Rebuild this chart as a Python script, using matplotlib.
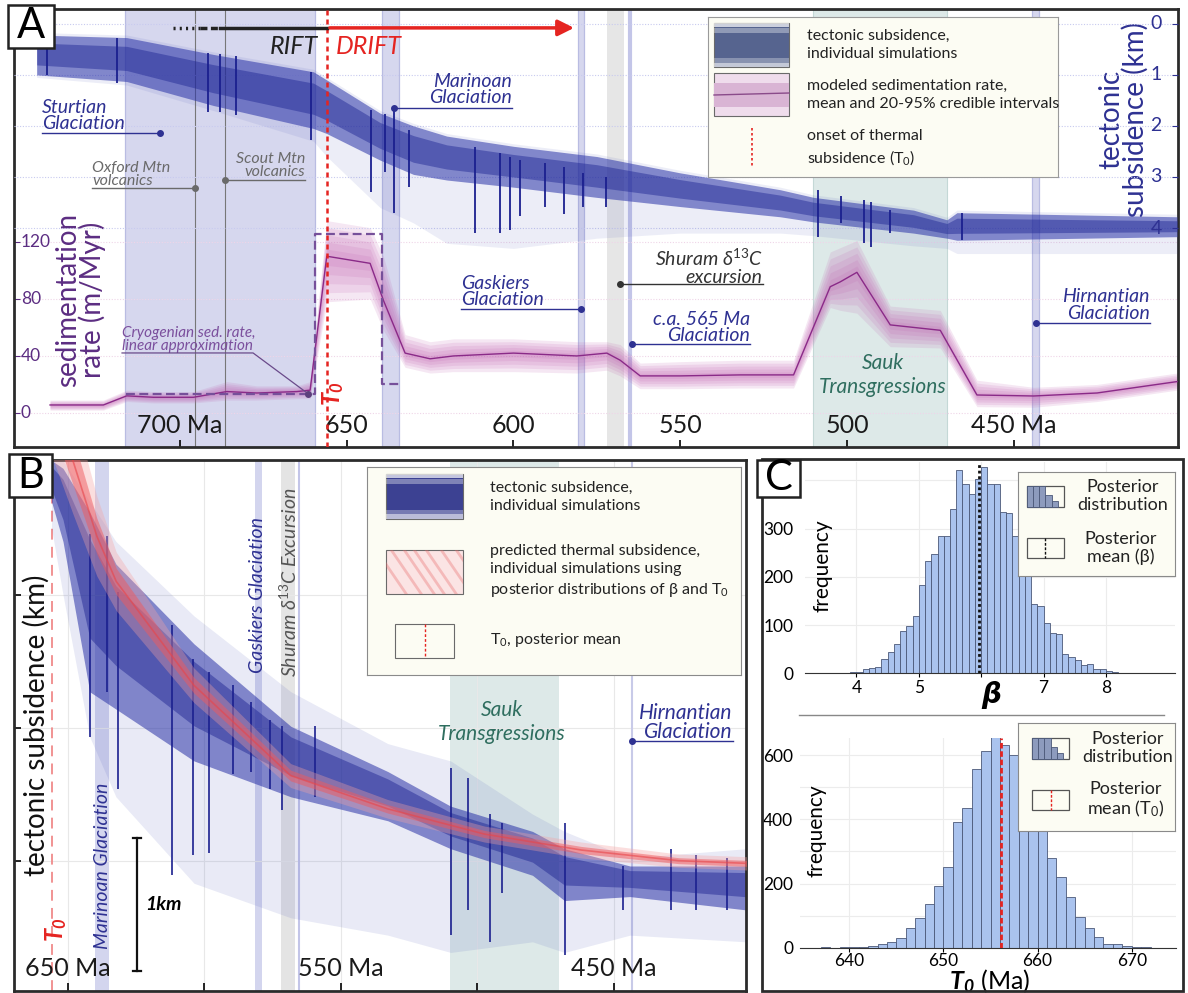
import numpy as np
import matplotlib
matplotlib.use('Agg')
import matplotlib.pyplot as plt
from matplotlib.patches import Rectangle
from matplotlib.lines import Line2D

plt.rcParams['font.family'] = ['Lato', 'DejaVu Sans']
plt.rcParams['mathtext.fontset'] = 'custom'
plt.rcParams['mathtext.rm'] = 'Lato'
plt.rcParams['mathtext.it'] = 'Lato:italic'
plt.rcParams['mathtext.bf'] = 'Lato:bold:italic'

# ---------------- data ----------------
# panel A: modeled sedimentation rate (m/Myr), mean and 95% envelope
sed_age = [739, 723, 716, 708, 696, 686, 677, 665, 661, 656, 643, 639, 632.5, 625, 618, 600,
           581, 572, 568, 562, 550, 532, 516, 505, 502, 497, 487, 472, 461, 444, 425, 401]
sed_mean = [5.6, 5.6, 12, 11, 11, 15, 14, 15, 16, 110, 105, 79, 42, 38, 40, 42,
            40, 42, 37, 26, 26, 26.7, 26.7, 88.6, 92, 98.7, 61.8, 58, 12.6, 11.9, 14, 22]
sed_hi = [9, 9, 16, 15, 15, 22, 19, 19, 22, 135, 130, 110, 55, 50, 52, 52,
          50, 50, 48, 35, 36, 37, 37, 113, 116, 121, 75, 72, 23, 18, 20, 28]
sed_lo = [2, 2, 8, 7, 7, 9, 9, 10, 10, 78, 80, 58, 32, 28, 29, 29,
          28, 30, 26, 17, 17, 17.5, 17.5, 74, 72, 70, 46.5, 45.6, 4.4, 4, 8, 16]

# cryogenian linear approximation (step)
cryo_age = [716.2, 659.6, 659.6, 639.4, 639.4, 634.3]
cryo_rate = [13.5, 13.5, 125.6, 125.6, 20, 20]

# panel A: tectonic subsidence ensemble (km)
sub_age = [743, 716, 690, 660, 656, 640, 630, 620, 600, 575, 550, 520, 510, 480, 470, 467, 401]
sub_top = [0.22, 0.27, 0.6, 0.94, 1.1, 1.75, 2.0, 2.2, 2.4, 2.6, 2.92, 3.25, 3.4, 3.65, 3.84, 3.7, 3.78]
sub_bot = [1.0, 1.13, 1.6, 2.05, 2.15, 2.67, 2.95, 3.06, 3.2, 3.4, 3.58, 3.78, 3.88, 4.1, 4.2, 4.24, 4.17]
sub_tail = [1.05, 1.2, 1.7, 2.3, 2.6, 3.6, 3.9, 4.3, 4.4, 4.2, 4.1, 4.1, 4.15, 4.35, 4.4, 4.5, 4.5]

spk_a_age = [739.9, 718.9, 691.6, 688, 683.2, 660.7, 642.7, 638.5, 635.8, 631.3, 611.5, 604,
             601, 598, 590.6, 584.9, 579.2, 572.3, 508.7, 501.8, 494.9, 492.8, 487.1, 465.5]
spk_a_top = [0.47, 0.27, 0.57, 0.6, 0.64, 0.94, 1.69, 1.76, 1.63, 2.08, 2.41, 2.54,
             2.6, 2.67, 2.73, 2.8, 2.93, 3.0, 3.25, 3.38, 3.45, 3.5, 3.65, 3.7]
spk_a_bot = [1.0, 1.16, 1.72, 1.72, 1.78, 2.27, 3.3, 2.9, 3.7, 3.2, 4.1, 4.1,
             4.04, 3.77, 3.59, 3.72, 3.59, 3.59, 4.17, 3.9, 4.3, 4.37, 4.1, 4.24]

# event intervals (Ma)
glac_a = [(716.5, 659.5), (639.4, 634.4), (580.7, 578.9), (444.5, 442.3)]
glac_b = [(640.0, 635.0), (581.3, 579.0)]
shuram = (571.9, 566.8)
ca565 = 565.2
hirnantian = 443.2
sauk = (510.2, 470.0)
volc_ages = [695.5, 686.5]
T0_MEAN = 655.9

# panel B: tectonic subsidence ensemble and thermal subsidence (km)
b_age = [656, 651.8, 642, 632.4, 603.8, 568.3, 532.8, 509.8, 479.8, 468.1, 444.1, 401.6]
b_core_top = [0.99, 1.05, 1.38, 1.77, 2.37, 2.99, 3.33, 3.59, 3.78, 3.91, 4.04, 4.04]
b_core_bot = [1.3, 1.6, 2.73, 2.86, 3.25, 3.52, 3.70, 3.91, 4.11, 4.30, 4.27, 4.37]
b_tail_top = [0.95, 0.99, 1.3, 1.6, 2.16, 2.73, 3.12, 3.25, 3.65, 3.78, 3.98, 3.91]
b_tail_bot = [1.5, 2.0, 3.07, 3.52, 4.17, 4.43, 4.56, 4.69, 4.61, 4.69, 4.56, 4.61]

r_age = [656, 648.2, 639.4, 632.3, 603.9, 568.4, 532.9, 497.4, 461.9, 426.3, 401.4]
r_mid = [0.5, 0.99, 1.56, 1.90, 2.68, 3.36, 3.61, 3.80, 3.92, 4.00, 4.02]
r_hw = [0.45, 0.4, 0.3, 0.22, 0.13, 0.09, 0.07, 0.06, 0.06, 0.05, 0.05]

spk_b_age = [642.0, 635.8, 631.7, 611.9, 604.2, 598.2, 589.6, 582.9, 576.0, 571.4,
             559.5, 509.8, 503.5, 495.5, 491.0, 468.0, 446.7, 429.0, 420.0, 408.6]
spk_b_top = [1.54, 1.56, 1.98, 2.23, 2.48, 2.58, 2.68, 2.81, 2.94, 2.99,
             2.99, 3.30, 3.38, 3.65, 3.72, 3.72, 4.04, 3.91, 3.96, 3.98]
spk_b_bot = [3.07, 2.73, 3.46, 4.11, 3.96, 3.94, 3.35, 3.33, 3.46, 3.62,
             3.52, 4.56, 4.37, 4.61, 4.24, 4.71, 4.37, 4.37, 4.37, 4.37]

# panel C: posterior histograms
beta_start, beta_width = 3.5, 0.1
beta_counts = [1, 1, 1, 1, 2, 3, 8, 12, 13, 30, 45, 61, 87, 99, 118,
               183, 233, 248, 284, 284, 340, 422, 392, 372, 402,
               427, 393, 393, 334, 332, 284, 250, 215, 143, 140,
               105, 83, 82, 40, 33, 28, 17, 19, 8, 8, 5, 2, 1, 1, 1, 1, 1]
beta_mean = 5.96
t0_start = 637
t0_counts = [1, 0, 1, 1, 3, 5, 11, 19, 29, 62, 93, 135, 193, 253, 391, 435, 557, 612, 659, 633,
             600, 545, 465, 385, 281, 219, 157, 95, 62, 34, 11, 13, 5, 3, 1]
t0_mean = 656.1

# ---------------- styling ----------------
NAVY = '#2e3192'
TEAL = '#2f6e5f'
RED = '#e52421'
PURP = '#5c2d82'
LAV = '#d6d7ee'

W, H = 1188, 993
fig = plt.figure(figsize=(W / 100, H / 100), dpi=100)


def box(l, t, r, b):
    return [l / W, 1 - b / H, (r - l) / W, (b - t) / H]


def callout(a, text, tx, ty, ha, x0, x1, ly, dotx, color, fs):
    a.text(tx, ty, text, ha=ha, va='center', color=color, fontsize=fs,
           style='italic', linespacing=0.95, zorder=8)
    a.plot([x0, x1], [ly, ly], color=color, lw=1, zorder=8)
    a.plot(dotx, ly, 'o', color=color, ms=4, zorder=8)


# ================= panel A =================
ax = fig.add_axes(box(14, 9, 1178, 447))
ax.set_xlim(749.8, 400.7)
ax.set_ylim(-23.9, 283.5)
axk = ax.twinx()
axk.set_ylim(8.29, -0.29)
for s in ax.spines.values():
    s.set_linewidth(2)
    s.set_color('#2b2b2b')
for s in axk.spines.values():
    s.set_visible(False)

for s, e in glac_a:
    ax.axvspan(s, e, color=LAV, lw=0, zorder=0)
    ax.axvline(s, color='#b9bce2', lw=0.9, zorder=0.2)
    ax.axvline(e, color='#b9bce2', lw=0.9, zorder=0.2)
ax.axvspan(*shuram, color='#e6e6e6', lw=0, zorder=0)
ax.axvline(ca565, color='#c3c5e8', lw=3, zorder=0.2)
ax.axvspan(*sauk, color='#dde9e8', lw=0, zorder=0)
ax.axvline(sauk[0], color='#c4d8d6', lw=0.8, zorder=0.2)
ax.axvline(sauk[1], color='#c4d8d6', lw=0.8, zorder=0.2)
for v in volc_ages:
    ax.axvline(v, color='#777777', lw=0.8, zorder=0.5)
for r in [0, 40, 80, 120]:
    ax.axhline(r, color='#efd5e8', lw=0.8, ls=(0, (1, 1.5)), zorder=0.3)
for k in [0, 1, 2, 3, 4]:
    axk.axhline(k, color='#c8caef', lw=0.8, ls=(0, (1, 1.5)), zorder=0.3)

# sedimentation rate credible bands
m = np.array(sed_mean)
lo = np.array(sed_lo)
hi = np.array(sed_hi)
for f in [1.0, 0.8, 0.6, 0.4, 0.2]:
    ax.fill_between(sed_age, m - f * (m - lo), m + f * (hi - m), color='#c060b0',
                    alpha=0.15, lw=0, zorder=2)
ax.plot(sed_age, sed_mean, color='#8a2a88', lw=1, zorder=3)
ax.plot(cryo_age, cryo_rate, color='#76509a', lw=1.6, ls=(0, (4, 2)), zorder=4)

# tectonic subsidence ensemble
st = np.array(sub_top)
sb = np.array(sub_bot)
axk.fill_between(sub_age, st - 0.05, sub_tail, color='#4a55b8', alpha=0.10, lw=0, zorder=1)
axk.fill_between(sub_age, st, sb, color='#2a33a8', alpha=0.55, lw=0, zorder=1)
axk.fill_between(sub_age, st + 0.2 * (sb - st), sb - 0.25 * (sb - st), color='#1c2492',
                 alpha=0.45, lw=0, zorder=1)
axk.vlines(spk_a_age, spk_a_top, spk_a_bot, color='#1b208f', lw=1.3, zorder=2)

axk.axvline(T0_MEAN, color=RED, lw=1.8, ls=(0, (2, 1.6)), zorder=5)

# rift / drift arrow
axk.plot([702, 694], [0.08, 0.08], color='#222', lw=2.5, ls=(0, (0.6, 1.2)), zorder=6)
axk.plot([694, 688], [0.08, 0.08], color='#222', lw=2.5, ls=(0, (2, 1)), zorder=6)
axk.plot([688, T0_MEAN], [0.08, 0.08], color='#222', lw=2.5, zorder=6)
axk.annotate('', xy=(581, 0.08), xytext=(T0_MEAN, 0.08),
             arrowprops=dict(arrowstyle='-|>', color=RED, lw=2.5, mutation_scale=24), zorder=6)
axk.text(658.6, 0.45, 'RIFT', ha='right', va='center', fontsize=18, style='italic', color='#222')
axk.text(653.2, 0.45, 'DRIFT', ha='left', va='center', fontsize=18, style='italic', color=RED)

callout(axk, 'Sturtian\nGlaciation', 741.4, 1.80, 'left', 741.4, 706, 2.14, 706, NAVY, 14)
callout(axk, 'Marinoan\nGlaciation', 600.4, 1.29, 'right', 635.8, 600.4, 1.65, 635.8, NAVY, 14)
callout(axk, 'Oxford Mtn\nvolcanics', 726.4, 2.95, 'left', 726.4, 695.5, 3.22, 695.5, '#6a6a6a', 11.5)
callout(axk, 'Scout Mtn\nvolcanics', 662.5, 2.78, 'right', 686.5, 662.5, 3.06, 686.5, '#6a6a6a', 11.5)
callout(axk, 'Gaskiers\nGlaciation', 615.7, 5.25, 'left', 615.7, 579.8, 5.59, 579.8, NAVY, 14)
callout(axk, 'Shuram δ$^{13}$C\nexcursion', 525.2, 4.76, 'right', 568.1, 525.2, 5.1, 568.1, '#333333', 14)
callout(axk, 'c.a. 565 Ma\nGlaciation', 529.1, 5.95, 'right', 564.5, 529.1, 6.27, 564.5, NAVY, 14)
callout(axk, 'Hirnantian\nGlaciation', 409.1, 5.51, 'right', 443.3, 409.1, 5.86, 443.3, NAVY, 14)
axk.text(489.2, 6.88, 'Sauk\nTransgressions', ha='center', va='center', fontsize=15,
         style='italic', color=TEAL, linespacing=1.3)
axk.text(654.1, 7.24, r'$\mathbf{T_0}$', rotation=90, ha='center', va='center',
         fontsize=17, color=RED, zorder=7)

ax.text(717.4, 51.6, 'Cryogenian sed. rate,\nlinear approximation', ha='left', va='center',
        fontsize=11, style='italic', color='#7b4f9d', linespacing=0.95, zorder=8)
ax.plot([717.4, 678.1, 661.6], [42.1, 42.1, 13.5], color='#6a4a8a', lw=0.9, zorder=8)
ax.plot(661.6, 13.5, 'o', color='#5c3f7c', ms=4, zorder=8)

# ticks and labels
ax.set_xticks([700, 650, 600, 550, 500, 450])
ax.tick_params(axis='x', direction='in', length=5, width=1.2, labelbottom=False)
ax.set_yticks([0, 40, 80, 120])
ax.tick_params(axis='y', direction='in', length=4, color=PURP, labelleft=False)
axk.set_yticks([0, 1, 2, 3, 4])
axk.tick_params(axis='y', direction='in', length=4, color=NAVY, labelright=False)
tx_a = ax.get_xaxis_transform()
for t, lab in zip([700, 650, 600, 550, 500, 450], ['700 Ma', '650', '600', '550', '500', '450 Ma']):
    ax.text(t, 0.048, lab, transform=tx_a, ha='center', va='center', fontsize=18, color='#1a1a1a')
ty_a = ax.get_yaxis_transform()
for r in [0, 40, 80, 120]:
    ax.text(0.006, r, str(r), transform=ty_a, ha='left', va='center', fontsize=12.5, color=PURP)
ty_k = axk.get_yaxis_transform()
for k in [0, 1, 2, 3, 4]:
    axk.text(0.986, k, str(k), transform=ty_k, ha='right', va='center', fontsize=14, color=NAVY)
ax.text(0.057, 0.336, 'sedimentation\nrate (m/Myr)', transform=ax.transAxes, rotation=90,
        ha='center', va='center', fontsize=20, color=PURP, linespacing=0.9)
ax.text(0.953, 0.747, 'tectonic\nsubsidence (km)', transform=ax.transAxes, rotation=90,
        ha='center', va='center', fontsize=20, color=NAVY, linespacing=0.9)


def blue_swatch(a, x0, y0, w, h, base):
    a.add_patch(Rectangle((x0, y0), w, h, fc=base, ec='#6a6a6a', lw=0.8))
    for fr, al in zip([0.0, 0.12, 0.8, 0.9], [0.7, 0.35, 0.3, 0.65]):
        a.add_patch(Rectangle((x0, y0 + fr * h), w, 0.1 * h, fc='white', ec='none', alpha=al))


# legend A
la = fig.add_axes(box(708, 17, 1058, 177))
la.set_xlim(0, 350)
la.set_ylim(160, 0)
la.set_xticks([])
la.set_yticks([])
la.set_facecolor('#fcfcf3')
for s in la.spines.values():
    s.set_color('#9a9a9a')
blue_swatch(la, 6, 6, 75, 44, '#56648f')
la.add_patch(Rectangle((6, 56), 75, 43, fc='#efdcec', ec='#6a6a6a', lw=0.8))
la.add_patch(Rectangle((6, 66), 75, 24, fc='#d9b4d4', ec='none'))
la.plot([6, 81], [78, 76], color='#8a4b8a', lw=1)
la.plot([44, 44], [111, 150], color=RED, lw=1.2, ls=(0, (1.5, 1.5)))
la.text(99, 28, 'tectonic subsidence,\nindividual simulations', va='center', fontsize=11.5,
        color='#222', linespacing=1.3)
la.text(99, 78, 'modeled sedimentation rate,\nmean and 20-95% credible intervals', va='center',
        fontsize=11.5, color='#222', linespacing=1.3)
la.text(99, 131, 'onset of thermal\nsubsidence (T$_0$)', va='center', fontsize=11.5, color='#222',
        linespacing=1.3)

# ================= panel B =================
axb = fig.add_axes(box(13.6, 460, 746, 991))
axb.set_xlim(669.9, 401.6)
axb.set_ylim(4.98, 0.987)
for s in axb.spines.values():
    s.set_linewidth(2)
    s.set_color('#2b2b2b')
axb.set_xticks([650, 600, 550, 500, 450])
axb.set_yticks([2, 3, 4])
axb.tick_params(axis='x', direction='in', length=6, width=1.2, labelbottom=False)
axb.tick_params(axis='y', direction='in', length=5, width=1.2, labelleft=False)
axb.grid(True, color='#e8e8e8', lw=0.8)
axb.set_axisbelow(True)

for s, e in glac_b:
    axb.axvspan(s, e, color='#d3d5ee', lw=0, zorder=0.5)
axb.axvspan(*shuram, color='#e4e4e4', lw=0, zorder=0.5)
axb.axvline(ca565, color='#c3c5e8', lw=1.5, zorder=0.6)
axb.axvspan(*sauk, color='#dde9e8', lw=0, zorder=0.5)
axb.axvline(hirnantian, color='#c8cae8', lw=1.5, zorder=0.6)
axb.axvline(T0_MEAN, color='#f08a8a', lw=1.3, ls=(0, (6, 4)), zorder=0.7)

bt = np.array(b_core_top)
bb = np.array(b_core_bot)
axb.fill_between(b_age, b_tail_top, b_tail_bot, color='#4a55b8', alpha=0.12, lw=0, zorder=1)
axb.fill_between(b_age, bt, bb, color='#2a32a6', alpha=0.55, lw=0, zorder=1)
axb.fill_between(b_age, bt + 0.15 * (bb - bt), bb - 0.3 * (bb - bt), color='#1a2190',
                 alpha=0.45, lw=0, zorder=1)
axb.vlines(spk_b_age, spk_b_top, spk_b_bot, color='#1b208f', lw=1.2, zorder=2)
rm = np.array(r_mid)
rh = np.array(r_hw)
axb.fill_between(r_age, rm - rh, rm + rh, color='#f5a3a3', alpha=0.35, lw=0, zorder=3)
axb.fill_between(r_age, rm - 0.45 * rh, rm + 0.45 * rh, color='#ef5a5e', alpha=0.5, lw=0, zorder=3)
axb.plot(r_age, r_mid, color='#e8454a', lw=1.2, alpha=0.6, zorder=3)

axb.plot([624.7, 624.7], [3.833, 4.83], color='#111', lw=1.6, zorder=6)
axb.plot([626.3, 623.1], [3.833, 3.833], color='#111', lw=1.6, zorder=6)
axb.plot([626.3, 623.1], [4.83, 4.83], color='#111', lw=1.6, zorder=6)
axb.text(621.8, 4.33, '1km', ha='left', va='center', fontsize=14, weight='bold', style='italic')

axb.text(637.5, 4.04, 'Marinoan Glaciation', rotation=90, ha='center', va='center',
         fontsize=14, style='italic', color=NAVY, zorder=7)
axb.text(580.4, 2.0, 'Gaskiers Glaciation', rotation=90, ha='center', va='center',
         fontsize=14, style='italic', color=NAVY, zorder=7)
axb.text(568.8, 1.905, 'Shuram δ$^{13}$C Excursion', rotation=90, ha='center', va='center',
         fontsize=14, style='italic', color='#555555', zorder=7)
axb.text(491.0, 2.957, 'Sauk\nTransgressions', ha='center', va='center', fontsize=15,
         style='italic', color=TEAL, linespacing=1.3, zorder=7)
callout(axb, 'Hirnantian\nGlaciation', 406.4, 2.96, 'right', 443.2, 406.4, 3.1, 443.2, NAVY, 15)
axb.text(654.4, 4.52, r'$\mathbf{T_0}$', rotation=90, ha='center', va='center',
         fontsize=17, color=RED, zorder=7)
axb.text(661.7, 2.98, 'tectonic subsidence (km)', rotation=90, ha='center', va='center',
         fontsize=20, color='#111', zorder=7)
for t in [650, 550, 450]:
    axb.text(t, 4.81, f'{t} Ma', ha='center', va='center', fontsize=18, color='#1a1a1a', zorder=7)

# legend B
lb = fig.add_axes(box(366.5, 466.6, 740.7, 675))
lb.set_xlim(0, 374.2)
lb.set_ylim(208.4, 0)
lb.set_xticks([])
lb.set_yticks([])
lb.set_facecolor('#fcfcf3')
for s in lb.spines.values():
    s.set_color('#8a8a8a')
blue_swatch(lb, 19.5, 7.4, 77, 44.6, '#3c4192')
red_sw = Rectangle((19.5, 83), 77, 44, fc='#fbe4e4', ec='#6a6a6a', lw=0.8)
lb.add_patch(red_sw)
for dx in [-10, 5, 18, 28, 40, 55, 70]:
    ln, = lb.plot([19.5 + dx, 19.5 + dx + 30], [83, 127], color='#e86a6a', lw=2, alpha=0.35)
    ln.set_clip_path(red_sw)
lb.add_patch(Rectangle((28.5, 157.4), 59, 33.8, fill=False, ec='#6a6a6a', lw=0.8))
lb.plot([58.5, 58.5], [157.4, 191.2], color=RED, lw=1, ls=(0, (2, 1.5)))
lb.text(124, 30, 'tectonic subsidence,\nindividual simulations', va='center', fontsize=11.5,
        color='#222', linespacing=1.35)
lb.text(124, 105, 'predicted thermal subsidence,\nindividual simulations using\n'
                  'posterior distributions of β and T$_0$', va='center', fontsize=11.5,
        color='#222', linespacing=1.35)
lb.text(124, 173, 'T$_0$, posterior mean', va='center', fontsize=11.5, color='#222')

# ================= panel C =================
fig.add_artist(Rectangle((762 / W, 1 - 991 / H), (1183 - 762) / W, (991 - 459) / H,
                         transform=fig.transFigure, fill=False, ec='#2b2b2b', lw=2, zorder=15))
fig.add_artist(Line2D([798.6 / W, 1163.7 / W], [1 - 715.3 / H, 1 - 715.3 / H],
                      color='#888888', lw=1))

beta_bins = beta_start + beta_width * np.arange(len(beta_counts))
h1 = fig.add_axes(box(804.7, 462, 1174.5, 673.3))
h1.bar(beta_bins, beta_counts, width=beta_width, align='edge', color='#aac3ee',
       edgecolor='#4b5878', linewidth=0.6, zorder=2)
h1.axvline(beta_mean, color='#111', lw=2, ls=(0, (1, 1)), zorder=3)
h1.set_xlim(3.17, 9.1)
h1.set_ylim(0, 438)
h1.set_xticks([4, 5, 6, 7, 8])
h1.set_xticklabels(['4', '5', '', '7', '8'])
h1.set_yticks([0, 100, 200, 300, 400])
h1.set_yticklabels(['0', '100', '200', '300', ''])
h1.tick_params(axis='x', length=3, labelsize=12.5, pad=2)
h1.tick_params(axis='y', length=0, labelsize=12.5, pad=8)
h1.grid(True, color='#ececec', lw=0.8)
h1.set_axisbelow(True)
for k in ['top', 'right', 'left']:
    h1.spines[k].set_visible(False)
h1.spines['bottom'].set_color('#333')
h1.text(0.02, 0.51, 'frequency', transform=h1.transAxes, rotation=90, ha='left',
        va='center', fontsize=15)
fig.text(991.6 / W, 1 - 695 / H, 'β', ha='center', va='center', fontsize=20,
         weight='bold', style='italic', family='DejaVu Sans')

t0_bins = t0_start + np.arange(len(t0_counts))
h2 = fig.add_axes(box(800.3, 737.8, 1176, 947.7))
h2.bar(t0_bins, t0_counts, width=1, align='edge', color='#aac3ee',
       edgecolor='#4b5878', linewidth=0.6, zorder=2)
h2.axvline(t0_mean, color=RED, lw=2, ls=(0, (2, 1)), zorder=3)
h2.set_xlim(634.8, 674.7)
h2.set_ylim(0, 654)
h2.set_xticks([640, 650, 660, 670])
h2.set_yticks([0, 100, 200, 300, 400, 500, 600])
h2.set_yticklabels(['0', '', '200', '', '400', '', '600'])
h2.tick_params(axis='x', length=3, labelsize=12.5, pad=1)
h2.tick_params(axis='y', length=0, labelsize=12.5, pad=5)
h2.grid(True, color='#ececec', lw=0.8)
h2.set_axisbelow(True)
for k in ['top', 'right', 'left']:
    h2.spines[k].set_visible(False)
h2.spines['bottom'].set_color('#333')
h2.text(0.044, 0.556, 'frequency', transform=h2.transAxes, rotation=90, ha='center',
        va='center', fontsize=15)
fig.text(990 / W, 1 - 981 / H, r'$\mathbf{T_0}$ (Ma)', ha='center', va='center', fontsize=18)


def hist_legend(rect, xl, yl, hx, hy, mean_col, label2):
    lc = fig.add_axes(box(*rect))
    lc.set_xlim(0, xl)
    lc.set_ylim(yl, 0)
    lc.set_xticks([])
    lc.set_yticks([])
    lc.set_facecolor('#fcfcf3')
    for s in lc.spines.values():
        s.set_color('#8a8a8a')
    lc.add_patch(Rectangle((hx, hy), 37, 20.5, fill=False, ec='#555', lw=0.9))
    for i, fr in enumerate([1.0, 1.0, 1.0, 0.55, 0.28]):
        lc.add_patch(Rectangle((hx + i * 6.2, hy + 20.5 * (1 - fr)), 6.2, 20.5 * fr,
                               fc='#8d9bbd', ec='#4b5878', lw=0.6))
    lc.add_patch(Rectangle((hx, hy + 51.5), 37, 20.5, fill=False, ec='#555', lw=0.9))
    lc.plot([hx + 18.5, hx + 18.5], [hy + 51.5, hy + 72], color=mean_col, lw=1,
            ls=(0, (2, 1.2)))
    lc.text(hx + 96, hy + 10, 'Posterior\ndistribution', ha='center', va='center',
            fontsize=13, color='#222', linespacing=1.15)
    lc.text(hx + 94, hy + 62, label2, ha='center', va='center', fontsize=13,
            color='#222', linespacing=1.15)


hist_legend((1017.8, 472, 1175, 575.7), 157.2, 103.7, 9, 14, '#111', 'Posterior\nmean (β)')
hist_legend((1017.8, 723, 1175, 831), 157.2, 108, 14.2, 15, RED, 'Posterior\nmean (T$_0$)')

# panel letters
for lab, l, t, r, b in [('A', 8.4, 5, 53.6, 48), ('B', 8.7, 454, 52.4, 497), ('C', 757, 460, 800, 497)]:
    fig.add_artist(Rectangle((l / W, 1 - b / H), (r - l) / W, (b - t) / H, transform=fig.transFigure,
                             fc='white', ec='#222', lw=1.8, zorder=20))
    fig.text((l + r) / 2 / W, 1 - (t + b) / 2 / H, lab, ha='center', va='center',
             fontsize=30, zorder=21)

fig.savefig('out.png', dpi=100)
